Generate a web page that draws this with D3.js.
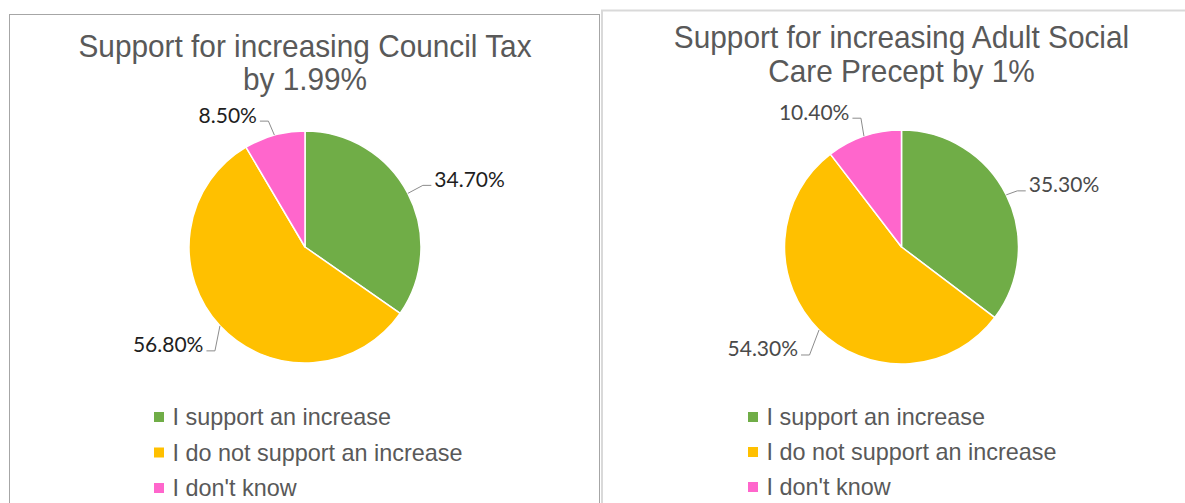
<!DOCTYPE html>
<html>
<head>
<meta charset="utf-8">
<script src="https://cdn.jsdelivr.net/npm/d3@7"></script>
<style>
  html, body { margin: 0; padding: 0; background: #ffffff; }
  svg { display: block; }
</style>
</head>
<body>
<svg id="chart" width="1185" height="503"></svg>
<script>
// Response categories shared by both survey questions
const categories = ["I support an increase", "I do not support an increase", "I don't know"];

// Share of respondents (%) per category
const councilTaxValues = [34.7, 56.8, 8.5];
const socialCareValues = [35.3, 54.3, 10.4];

// Chart titles (one entry per line)
const councilTaxTitle = ["Support for increasing Council Tax", "by 1.99%"];
const socialCareTitle = ["Support for increasing Adult Social", "Care Precept by 1%"];

// Slice colours, in category order
const sliceColors = ["#70AD47", "#FFC000", "#FF66CC"];

const svg = d3.select("#chart");

// Panel frames
svg.append("rect")
  .attr("x", 9.5).attr("y", 14.5)
  .attr("width", 590).attr("height", 520)
  .attr("fill", "#ffffff")
  .attr("stroke", "#a6a6a6").attr("stroke-width", 1);

svg.append("rect")
  .attr("x", 602).attr("y", 10.5)
  .attr("width", 600).attr("height", 520)
  .attr("fill", "#ffffff")
  .attr("stroke", "#d9d9d9").attr("stroke-width", 2);

// Layout of each chart panel; leader elbows are offsets from the slice edge
const panels = [
  {
    values: councilTaxValues, title: councilTaxTitle,
    cx: 305, cy: 247, r: 116,
    titleY: 57.5, titleGap: 32.5,
    labelColor: "#1e1e1e",
    elbow: [[15, -8], [-5, 25], [-6, -14]],
    legendX: 154, legendY: 417, legendGap: 35.5
  },
  {
    values: socialCareValues, title: socialCareTitle,
    cx: 901.5, cy: 247, r: 117,
    titleY: 48.5, titleGap: 34,
    labelColor: "#4a4a4a",
    elbow: [[11, -4], [-9.5, 25], [-3, -18]],
    legendX: 748, legendY: 417, legendGap: 35
  }
];

const pie = d3.pie().sort(null).value(d => d);
const fmt = v => d3.format(".2f")(v) + "%";

panels.forEach(p => {
  const g = svg.append("g");

  // Title, slightly condensed horizontally
  g.append("g")
    .attr("transform", `translate(${p.cx},0) scale(0.94,1)`)
    .append("text")
    .attr("text-anchor", "middle")
    .attr("font-family", "'Liberation Sans', Arial, sans-serif")
    .attr("font-size", 31.7)
    .attr("fill", "#595959")
    .selectAll("tspan")
    .data(p.title)
    .join("tspan")
      .attr("x", 0)
      .attr("y", (d, i) => p.titleY + i * p.titleGap)
      .text(d => d);

  // Slices
  const arcs = pie(p.values);
  const arc = d3.arc().innerRadius(0).outerRadius(p.r);
  const pieG = g.append("g").attr("transform", `translate(${p.cx},${p.cy})`);

  pieG.selectAll("path.slice")
    .data(arcs)
    .join("path")
      .attr("class", "slice")
      .attr("d", arc)
      .attr("fill", (d, i) => sliceColors[i])
      .attr("stroke", "#ffffff")
      .attr("stroke-width", 1.5)
      .attr("stroke-linejoin", "round");

  // Leader lines and value labels
  arcs.forEach((d, i) => {
    const a = (d.startAngle + d.endAngle) / 2;
    const edge = [p.r * Math.sin(a), -p.r * Math.cos(a)];
    const elbow = [edge[0] + p.elbow[i][0], edge[1] + p.elbow[i][1]];
    const dir = Math.sin(a) >= 0 ? 1 : -1;
    const end = [elbow[0] + dir * 8.5, elbow[1]];

    pieG.append("polyline")
      .attr("points", [edge, elbow, end].map(pt => pt.join(",")).join(" "))
      .attr("fill", "none")
      .attr("stroke", "#8c8c8c")
      .attr("stroke-width", 1);

    pieG.append("text")
      .attr("x", end[0] + dir * 3)
      .attr("y", end[1] + 1.5)
      .attr("text-anchor", dir > 0 ? "start" : "end")
      .attr("font-family", "Lato, 'Open Sans', sans-serif")
      .attr("font-size", 21)
      .attr("fill", p.labelColor)
      .text(fmt(d.data));
  });

  // Legend
  const leg = g.selectAll("g.legend")
    .data(categories)
    .join("g")
      .attr("class", "legend")
      .attr("transform", (d, i) => `translate(${p.legendX},${p.legendY + i * p.legendGap})`);

  leg.append("rect")
    .attr("x", 0).attr("y", -5)
    .attr("width", 10).attr("height", 10)
    .attr("fill", (d, i) => sliceColors[i]);

  leg.append("text")
    .attr("x", 18.5)
    .attr("y", 8.3)
    .attr("font-family", "'Liberation Sans', Arial, sans-serif")
    .attr("font-size", 23.4)
    .attr("fill", "#595959")
    .text(d => d);
});
</script>
</body>
</html>
